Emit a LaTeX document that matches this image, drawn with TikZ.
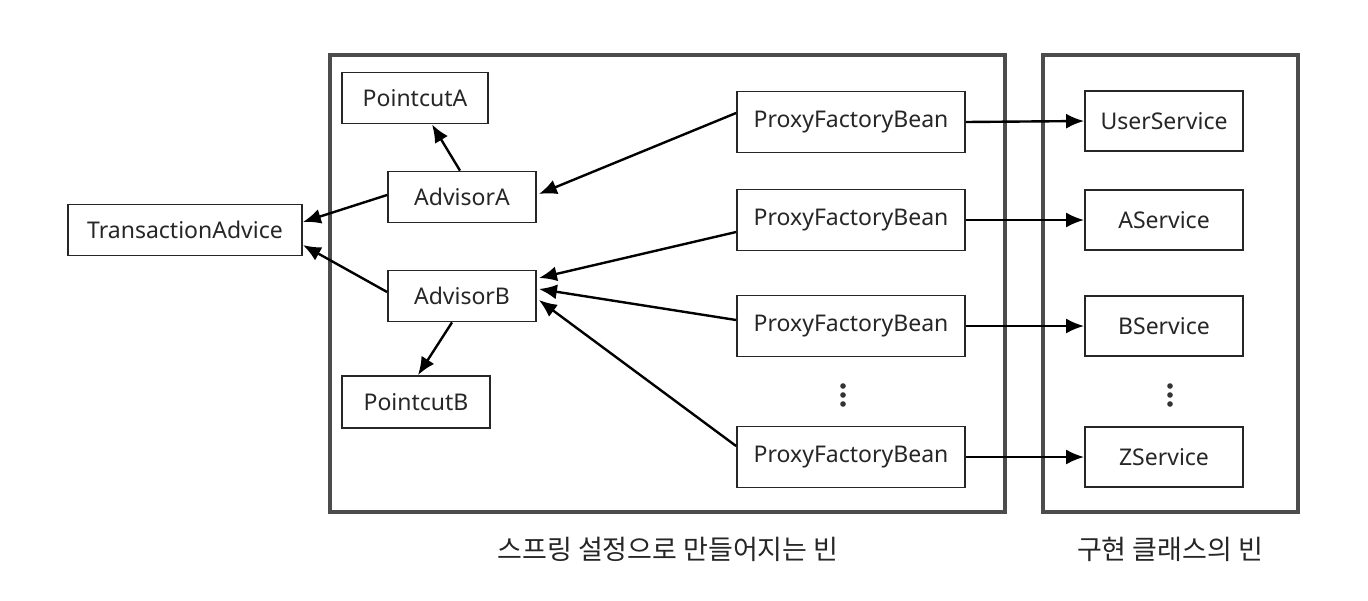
\documentclass[tikz,border=0pt]{standalone}
\usepackage{fontspec}
\setmainfont{Noto Sans}
\newfontfamily\krfont{Noto Sans CJK KR}
\usetikzlibrary{arrows.meta,calc}
\begin{document}
\begin{tikzpicture}[x=0.5pt,y=-0.5pt,
  box/.style={draw=black!85,line width=0.9pt,fill=white,inner sep=0pt,font=\fontsize{11.5pt}{13pt}\selectfont,text=black!85},
  small/.style={box,minimum width=74pt,minimum height=25.5pt},
  pfb/.style={box,minimum width=114pt,minimum height=30.5pt},
  svc/.style={box,minimum width=79pt,minimum height=30pt},
  arr/.style={line width=1.2pt,-{Latex[length=9pt,width=7.5pt]}},
  frame/.style={draw=black!70,line width=1.6pt},
  lbl/.style={font=\krfont\fontsize{13.5pt}{15pt}\selectfont,text=black!85},
  dot/.style={fill=black!80}]
\useasboundingbox (0,0) rectangle (1368,600);
\fill[white] (0,0) rectangle (1368,600);
% containers
\draw[frame] (330,55) rectangle (1005,512);
\draw[frame] (1043,55) rectangle (1298,512);
% nodes
\node[small,minimum width=73pt] (pa) at (415,98) {PointcutA};
\node[small] (aa) at (462,197) {AdvisorA};
\node[small,minimum width=117pt] (ta) at (185,230) {TransactionAdvice};
\node[small] (ab) at (462,296) {AdvisorB};
\node[small,minimum height=26pt] (pb) at (416,402) {PointcutB};
\node[pfb] (p1) at (851,122) {ProxyFactoryBean};
\node[pfb] (p2) at (851,220) {ProxyFactoryBean};
\node[pfb] (p3) at (851,326) {ProxyFactoryBean};
\node[pfb] (p4) at (851,457) {ProxyFactoryBean};
\node[svc] (s1) at (1164,121) {UserService};
\node[svc] (s2) at (1164,220) {AService};
\node[svc] (s3) at (1164,326) {BService};
\node[svc] (s4) at (1164,457) {ZService};
\foreach \yy in {386,395,404} {
  \fill[dot] (843,\yy) circle (1.4pt);
  \fill[dot] (1170,\yy) circle (1.4pt);
}
\node[lbl] (l1) at (668,549) {스프링 설정으로 만들어지는 빈};
\node[lbl] (l2) at (1170,549) {구현 클래스의 빈};
% arrows
\draw[arr] ($(aa.north)+(-2,0)$) -- ($(pa.south)+(17,0)$);
\draw[arr] ($(aa.west)+(0,-2)$) -- ($(ta.east)+(0,-8)$);
\draw[arr] ($(ab.west)+(0,-4)$) -- ($(ta.east)+(0,15)$);
\draw[arr] ($(ab.south)+(-10,0)$) -- ($(pb.north)+(2,0)$);
\draw[arr] ($(p1.west)+(0,-9)$) -- ($(aa.east)+(2,-3)$);
\draw[arr] ($(p2.west)+(0,12)$) -- ($(ab.east)+(2,-18)$);
\draw[arr] ($(p3.west)+(0,-6)$) -- ($(ab.east)+(2,-7)$);
\draw[arr] ($(p4.west)+(0,-11)$) -- ($(ab.east)+(2,4)$);
\draw[arr] (p1.east) -- (s1.west);
\draw[arr] (p2.east) -- (s2.west);
\draw[arr] (p3.east) -- (s3.west);
\draw[arr] (p4.east) -- (s4.west);
\end{tikzpicture}
\end{document}
